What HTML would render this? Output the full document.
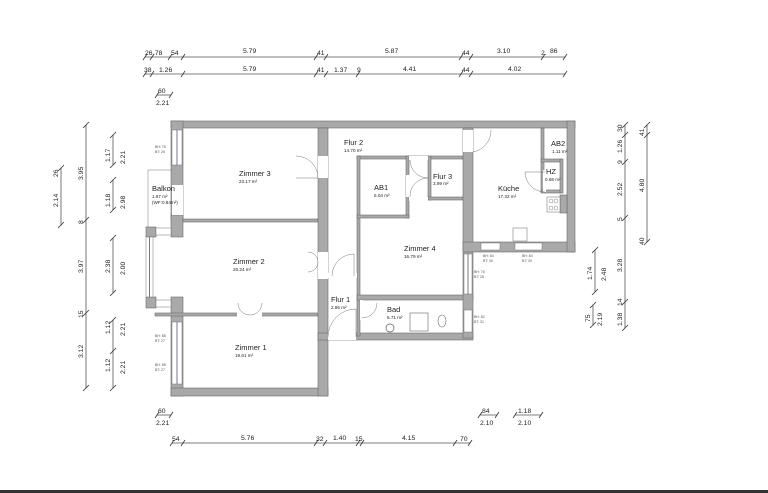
<!DOCTYPE html>
<html><head><meta charset="utf-8"><style>
html,body{margin:0;padding:0;background:#fff;}
svg{display:block;}
text{font-family:"Liberation Sans",sans-serif;fill:#222;}
.n{font-size:7.5px;}
.a{font-size:4.6px;}
.d{font-size:6.8px;fill:#333;}
.t{font-size:3.5px;fill:#555;}
.w{fill:#a9a9a9;stroke:#6a6a6a;stroke-width:0.6;}
.l{stroke:#555;stroke-width:0.8;fill:none;}
.k{stroke:#333;stroke-width:0.8;}
.dr{stroke:#777;stroke-width:0.5;fill:none;}
</style></head><body>
<svg width="768" height="493" viewBox="0 0 768 493" xmlns="http://www.w3.org/2000/svg">
<!-- walls -->
<rect class="w" x="171" y="121" width="404" height="7"/>
<rect class="w" x="171" y="121" width="12" height="100"/>
<rect class="w" x="146" y="227" width="10" height="10"/>
<rect class="w" x="146" y="297" width="10" height="11"/>
<rect class="w" x="171" y="215" width="12" height="22"/>
<rect class="w" x="171" y="297" width="12" height="99"/>
<rect class="w" x="171" y="388" width="157" height="8"/>
<rect class="w" x="183" y="219" width="135" height="3"/>
<rect class="w" x="155" y="313" width="163" height="3"/>
<rect class="w" x="318" y="128" width="10" height="268"/>
<rect class="w" x="318" y="333" width="155" height="7"/>
<rect class="w" x="357" y="156" width="106" height="3"/>
<rect class="w" x="357" y="156" width="3" height="180"/>
<rect class="w" x="406" y="156" width="3" height="62"/>
<rect class="w" x="357" y="215" width="52" height="3"/>
<rect class="w" x="428" y="156" width="3" height="44"/>
<rect class="w" x="428" y="197" width="35" height="3"/>
<rect class="w" x="357" y="295" width="116" height="5"/>
<rect class="w" x="463" y="128" width="10" height="210"/>
<rect class="w" x="463" y="242" width="112" height="10"/>
<rect class="w" x="567" y="121" width="8" height="131"/>
<rect class="w" x="560" y="195" width="7" height="18"/>
<rect class="w" x="541" y="128" width="3" height="64"/>
<rect class="w" x="541" y="159" width="20" height="3"/>
<rect class="w" x="541" y="190" width="20" height="3"/>
<rect class="w" x="560" y="159" width="3" height="34"/>
<!-- window / door openings (white) -->
<rect x="172" y="130" width="10" height="35" fill="#fff" stroke="#777" stroke-width="0.5"/>
<line x1="177" y1="130" x2="177" y2="165" stroke="#557" stroke-width="0.8"/>
<rect x="172" y="185" width="11" height="30" fill="#fff"/>
<rect x="146" y="237" width="7" height="60" fill="#fff" stroke="#777" stroke-width="0.5"/>
<line x1="149.5" y1="237" x2="149.5" y2="297" stroke="#557" stroke-width="0.8"/>
<rect x="156" y="228" width="15" height="7" fill="#fff" stroke="#777" stroke-width="0.5"/>
<rect x="156" y="300" width="15" height="7" fill="#fff" stroke="#777" stroke-width="0.5"/>
<rect x="172" y="322" width="10" height="62" fill="#fff" stroke="#777" stroke-width="0.5"/>
<line x1="177" y1="322" x2="177" y2="384" stroke="#557" stroke-width="0.8"/>
<rect x="318" y="156" width="10" height="22" fill="#fff"/>
<rect x="318" y="252" width="10" height="20" fill="#fff"/>
<rect x="318" y="269" width="10" height="10" fill="#fff"/>
<rect x="327" y="273" width="30" height="5" fill="#fff"/>
<rect x="328" y="331" width="28" height="9" fill="#fff"/>
<rect x="237" y="312" width="25" height="5" fill="#fff"/>
<rect x="360" y="300" width="3" height="20" fill="#fff"/>
<rect x="409" y="156" width="19" height="4" fill="#fff"/>
<rect x="406" y="175" width="4" height="22" fill="#fff"/>
<rect x="409" y="197" width="19" height="4" fill="#fff"/>
<rect x="463" y="130" width="10" height="22" fill="#fff"/>
<rect x="464" y="254" width="8" height="40" fill="#fff" stroke="#777" stroke-width="0.5"/>
<line x1="468" y1="254" x2="468" y2="294" stroke="#557" stroke-width="0.8"/>
<rect x="464" y="310" width="8" height="22" fill="#fff" stroke="#777" stroke-width="0.5"/>
<rect x="481" y="243" width="19" height="7" fill="#fff" stroke="#777" stroke-width="0.5"/>
<rect x="515" y="243" width="27" height="7" fill="#fff" stroke="#777" stroke-width="0.5"/>
<rect x="543" y="170" width="3" height="22" fill="#fff"/>
<!-- balcony -->
<path d="M172,170 H148 V227" class="dr"/>
<!-- door swings -->
<path d="M318,178 A22,22 0 0 0 296,156" class="dr"/><line x1="296" y1="178" x2="318" y2="178" class="dr"/>
<path d="M318,262 A10,10 0 0 0 308,252 M318,262 A10,10 0 0 1 308,272" class="dr"/>
<path d="M332,276 A22,22 0 0 1 354,254 V276" class="dr"/>
<path d="M250,315 A12,12 0 0 1 238,303 M250,315 A12,12 0 0 0 262,303" class="dr"/>
<path d="M328,337 A28,28 0 0 1 356,309 V337" class="dr"/>
<path d="M362,318 A15,15 0 0 0 377,303" class="dr"/>
<path d="M410,160 A18,18 0 0 0 428,178 M410,197 A18,18 0 0 1 428,178" class="dr"/>
<path d="M473,152 A22,22 0 0 0 491,130" class="dr"/>
<path d="M545,192 A20,20 0 0 1 525,172 H545" class="dr"/>
<!-- fixtures -->
<rect x="410" y="313" width="18" height="18" fill="#fff" stroke="#666" stroke-width="0.6"/>
<ellipse cx="442" cy="321" rx="4" ry="6" fill="#fff" stroke="#666" stroke-width="0.6"/>
<circle cx="390" cy="328" r="4" fill="#fff" stroke="#555" stroke-width="0.7"/>
<rect x="547" y="197" width="13" height="15" fill="#fff" stroke="#666" stroke-width="0.5"/>
<circle cx="551" cy="201" r="2" fill="none" stroke="#666" stroke-width="0.4"/><circle cx="556" cy="201" r="2" fill="none" stroke="#666" stroke-width="0.4"/>
<circle cx="551" cy="208" r="2" fill="none" stroke="#666" stroke-width="0.4"/><circle cx="556" cy="208" r="2" fill="none" stroke="#666" stroke-width="0.4"/>
<rect x="513" y="228" width="14" height="13" fill="#fff" stroke="#666" stroke-width="0.5"/>
<!-- room labels -->
<text class="n" x="239" y="176">Zimmer 3</text><text class="a" x="239" y="183">23.17 m²</text>
<text class="n" x="233" y="264">Zimmer 2</text><text class="a" x="233" y="271">26.24 m²</text>
<text class="n" x="235" y="350">Zimmer 1</text><text class="a" x="235" y="357">19.61 m²</text>
<text class="n" x="344" y="145">Flur 2</text><text class="a" x="344" y="152">14.70 m²</text>
<text class="n" x="374" y="190">AB1</text><text class="a" x="374" y="197">5.04 m²</text>
<text class="n" x="433" y="179">Flur 3</text><text class="a" x="433" y="185">3.99 m²</text>
<text class="n" x="404" y="251">Zimmer 4</text><text class="a" x="404" y="258">16.79 m²</text>
<text class="n" x="331" y="302">Flur 1</text><text class="a" x="331" y="309">2.86 m²</text>
<text class="n" x="387" y="312">Bad</text><text class="a" x="387" y="319">5.71 m²</text>
<text class="n" x="498" y="191">Küche</text><text class="a" x="498" y="198">17.32 m²</text>
<text class="n" x="551" y="146">AB2</text><text class="a" x="552" y="153">1.11 m²</text>
<text class="n" x="546" y="174">HZ</text><text class="a" x="545" y="181">0.68 m²</text>
<text class="n" x="152" y="191">Balkon</text><text class="a" x="152" y="198">1.67 m²</text><text class="a" x="152" y="204">(WF:0.84m²)</text>
<!-- small window labels -->
<text class="t" x="155" y="148">BH: 78</text><text class="t" x="155" y="153">BT: 26</text>
<text class="t" x="155" y="337">BH: 88</text><text class="t" x="155" y="342">BT: 27</text>
<text class="t" x="155" y="366">BH: 88</text><text class="t" x="155" y="371">BT: 27</text>
<text class="t" x="474" y="273">BH: 76</text><text class="t" x="474" y="278">BT: 26</text>
<text class="t" x="474" y="318">BH: 82</text><text class="t" x="474" y="323">BT: 31</text>
<text class="t" x="483" y="257">BH: 84</text><text class="t" x="483" y="262">BT: 30</text>
<text class="t" x="522" y="257">BH: 84</text><text class="t" x="522" y="262">BT: 30</text>
<!-- dimension lines top -->
<g class="l">
<line x1="145" y1="57" x2="565" y2="57"/><line x1="145" y1="74" x2="565" y2="74"/>
<line x1="157" y1="95" x2="171" y2="95"/>
<line x1="172" y1="443" x2="470" y2="443"/>
<line x1="157" y1="415" x2="171" y2="415"/>
<line x1="480" y1="415" x2="497" y2="415"/><line x1="515" y1="415" x2="541" y2="415"/>
<line x1="86" y1="125" x2="86" y2="388"/><line x1="61" y1="168" x2="61" y2="225"/>
<line x1="113" y1="135" x2="113" y2="165"/><line x1="113" y1="180" x2="113" y2="210"/>
<line x1="113" y1="238" x2="113" y2="293"/><line x1="113" y1="320" x2="113" y2="388"/>
<line x1="625" y1="125" x2="625" y2="328"/><line x1="647" y1="125" x2="647" y2="242"/>
<line x1="595" y1="250" x2="595" y2="292"/><line x1="593" y1="305" x2="593" y2="325"/>
</g>
<g class="k">
<path d="M143,60l4,-6M150,60l4,-6M168,60l4,-6M181,60l4,-6M314,60l4,-6M324,60l4,-6M459,60l4,-6M469,60l4,-6M541,60l4,-6M563,60l4,-6"/>
<path d="M143,77l4,-6M150,77l4,-6M181,77l4,-6M314,77l4,-6M324,77l4,-6M356,77l4,-6M459,77l4,-6M469,77l4,-6M563,77l4,-6"/>
<path d="M155,98l4,-6M169,98l4,-6M155,418l4,-6M169,418l4,-6M478,418l4,-6M495,418l4,-6M513,418l4,-6M539,418l4,-6"/>
<path d="M170,446l4,-6M181,446l4,-6M314,446l4,-6M323,446l4,-6M356,446l4,-6M360,446l4,-6M453,446l4,-6M468,446l4,-6"/>
<path d="M83,128l6,-6M83,223l6,-6M83,316l6,-6M83,391l6,-6M58,171l6,-6M58,228l6,-6"/>
<path d="M110,138l6,-6M110,168l6,-6M110,183l6,-6M110,213l6,-6M110,241l6,-6M110,296l6,-6M110,323l6,-6M110,354l6,-6M110,391l6,-6"/>
<path d="M622,128l6,-6M622,138l6,-6M622,165l6,-6M622,221l6,-6M622,305l6,-6M622,331l6,-6M644,128l6,-6M644,138l6,-6M644,245l6,-6"/>
<path d="M592,253l6,-6M592,295l6,-6M590,308l6,-6M590,328l6,-6"/>
</g>
<g class="d">
<text x="145" y="55">26</text><text x="153" y="55">.78</text><text x="171" y="55">54</text><text x="243" y="53">5.79</text><text x="317" y="55">41</text><text x="385" y="53">5.87</text><text x="462" y="55">44</text><text x="497" y="53">3.10</text><text x="541" y="55">2.</text><text x="550" y="53">86</text>
<text x="144" y="72">38</text><text x="159" y="72">1.26</text><text x="243" y="71">5.79</text><text x="317" y="72">41</text><text x="334" y="72">1.37</text><text x="357" y="72">9</text><text x="403" y="71">4.41</text><text x="462" y="72">44</text><text x="508" y="71">4.02</text>
<text x="158" y="93">60</text><text x="156" y="105">2.21</text>
<text x="158" y="413">60</text><text x="156" y="425">2.21</text>
<text x="172" y="441">54</text><text x="241" y="440">5.76</text><text x="316" y="441">32</text><text x="333" y="440">1.40</text><text x="355" y="441">15</text><text x="402" y="440">4.15</text><text x="460" y="441">70</text>
<text x="482" y="413">84</text><text x="480" y="425">2.10</text><text x="518" y="413">1.18</text><text x="518" y="425">2.10</text>
<g transform="rotate(-90)">
<text x="-180" y="83">3.95</text><text x="-224" y="83">8</text><text x="-273" y="83">3.97</text><text x="-318" y="83">15</text><text x="-358" y="83">3.12</text>
<text x="-207" y="58">2.14</text><text x="-177" y="58">26</text>
<text x="-162" y="110">1.17</text><text x="-164" y="125">2.21</text>
<text x="-207" y="110">1.18</text><text x="-209" y="125">2.98</text>
<text x="-273" y="110">2.38</text><text x="-275" y="125">2.00</text>
<text x="-334" y="110">1.12</text><text x="-336" y="125">2.21</text>
<text x="-372" y="110">1.12</text><text x="-374" y="125">2.21</text>
<text x="-132" y="622">30</text><text x="-153" y="622">1.26</text><text x="-164" y="622">9</text><text x="-196" y="622">2.52</text><text x="-221" y="622">5</text><text x="-272" y="622">3.28</text><text x="-306" y="622">14</text><text x="-326" y="622">1.38</text>
<text x="-136" y="644">41</text><text x="-192" y="644">4.80</text><text x="-245" y="644">40</text>
<text x="-280" y="592">1.74</text><text x="-281" y="606">2.48</text>
<text x="-322" y="590">75</text><text x="-326" y="602">2.19</text>
</g>
</g>
<rect x="0" y="490" width="768" height="3" fill="#333"/>
</svg>
</body></html>
